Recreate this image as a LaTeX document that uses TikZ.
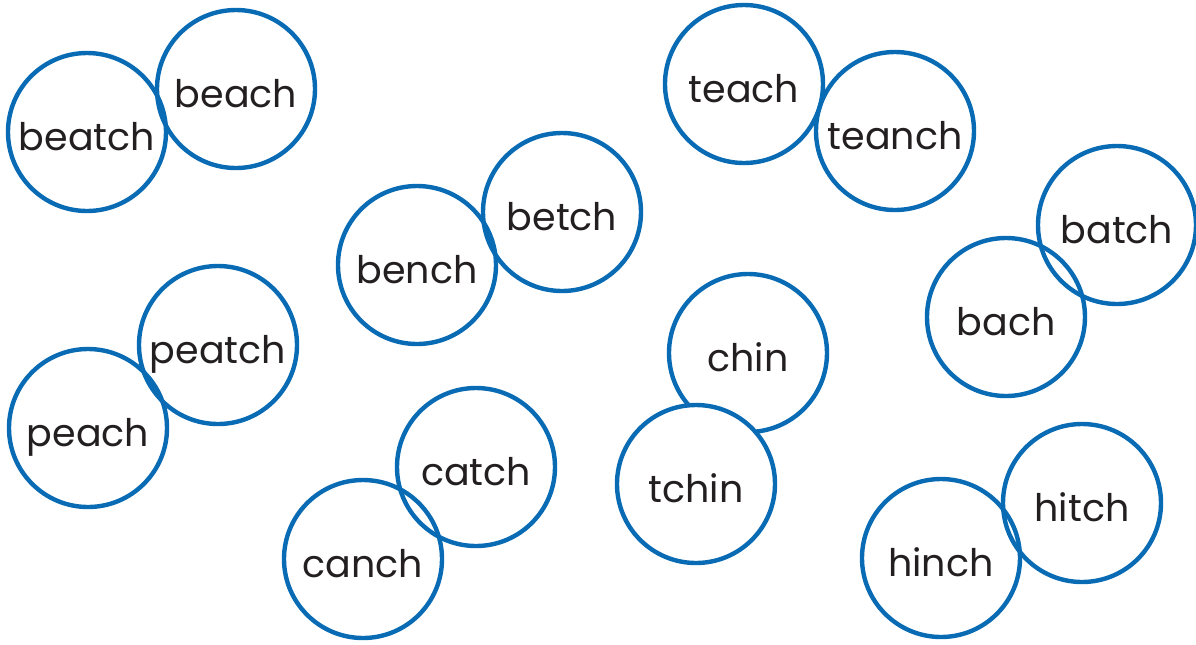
\documentclass[tikz,border=0pt]{standalone}
\usepackage{fontspec}
\setmainfont{Poppins}
\definecolor{ringblue}{HTML}{0A6BB5}
\definecolor{wordgray}{HTML}{231F20}
\tikzset{word/.style={circle, draw=ringblue, line width=2.2pt, minimum size=79pt,
    inner sep=0pt, text height=18pt, text depth=0pt, text=wordgray,
    font=\fontsize{19}{19}\selectfont}}
\begin{document}
\begin{tikzpicture}[x=0.5pt, y=-0.5pt]
            \useasboundingbox (0, 0) rectangle (1196, 644);
            \node[word] (beatch) at (87, 132) {beatch};
            \node[word] (beach) at (236, 89) {beach};
            \node[word] (teach) at (744, 84) {teach};
            \node[word] (teanch) at (895, 131) {teanch};
            \node[word] (bench) at (417, 265) {bench};
            \node[word] (betch) at (562, 212) {betch};
            \node[word] (batch) at (1117, 225) {batch};
            \node[word] (bach) at (1006, 317) {bach};
            \node[word] (peatch) at (218, 345) {peatch};
            \node[word] (peach) at (88, 428) {peach};
            \node[word] (chin) at (748, 353) {chin};
            \node[word, fill=white] (tchin) at (696, 484) {tchin};
            \node[word] (catch) at (476, 467) {catch};
            \node[word] (canch) at (363, 559) {canch};
            \node[word] (hitch) at (1082, 503) {hitch};
            \node[word] (hinch) at (941, 558) {hinch};
          \end{tikzpicture}
\end{document}
